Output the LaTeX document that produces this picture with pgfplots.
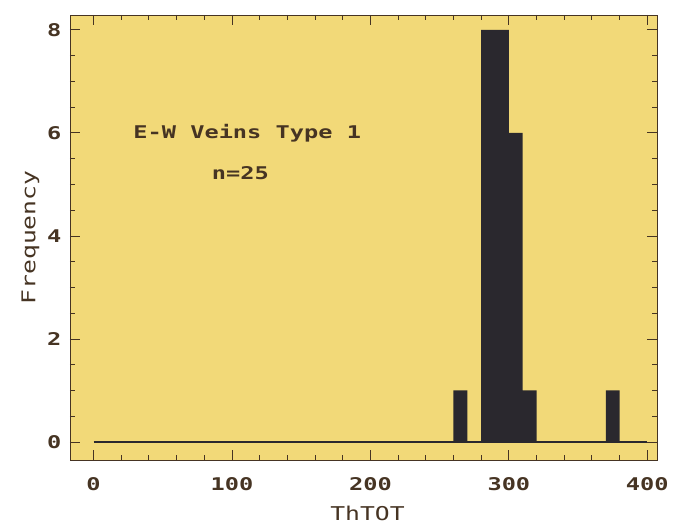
\documentclass[border=0pt]{standalone}
\usepackage{fontspec}
\usepackage{pgfplots}
\pgfplotsset{compat=1.18}
\newfontfamily\tickfont[FakeStretch=1.35]{DejaVu Sans Mono}
\newfontfamily\labfont[FakeStretch=1.3]{DejaVu Sans Mono}
\definecolor{bg}{RGB}{242,217,120}
\definecolor{barc}{RGB}{42,40,46}
\definecolor{ink}{RGB}{70,52,35}
\begin{document}
\begin{tikzpicture}
\begin{axis}[
  name=ax,
  scale only axis,
  width=587pt, height=445pt,
  xmin=-17, xmax=407, ymin=-0.35, ymax=8.29,
  axis background/.style={fill=bg},
  axis line style={ink, line width=0.9pt},
  xtick={0,100,...,400}, ytick={0,2,...,8},
  minor x tick num=4, minor y tick num=3,
  major tick length=10pt, minor tick length=5pt,
  every tick/.style={ink, line width=0.9pt},
  tick align=inside,
  /pgf/number format/assume math mode=true,
  ticklabel style={font=\fontsize{17.5}{19}\bfseries\tickfont, text=ink},
  xticklabel style={yshift=-14pt},
  yticklabel style={xshift=-5pt},
  xlabel={ThTOT}, ylabel={Frequency},
  label style={font=\fontsize{19}{21}\labfont, text=ink},
  xlabel style={yshift=-8pt, xshift=4pt},
  ylabel style={yshift=1pt},
  clip=false,
]
\addplot[const plot, fill=barc, draw=none] coordinates {
  (250,0) (260,1) (270,0) (280,8) (290,8) (300,6) (310,1) (320,0)
  (330,0) (340,0) (350,0) (360,0) (370,1) (380,0)
} \closedcycle;
\addplot[barc, line width=1.1pt] coordinates {(0,0) (400,0)};
\node[font=\fontsize{17.5}{19}\bfseries\tickfont, text=ink] at (axis cs:111,6.0) {E-W Veins Type 1};
\node[font=\fontsize{17.5}{19}\bfseries\tickfont, text=ink] at (axis cs:106,5.22) {n=25};
\end{axis}
\path ([shift={(-70pt,-67pt)}]ax.south west) rectangle ([shift={(17pt,15pt)}]ax.north east);
\end{tikzpicture}
\end{document}
